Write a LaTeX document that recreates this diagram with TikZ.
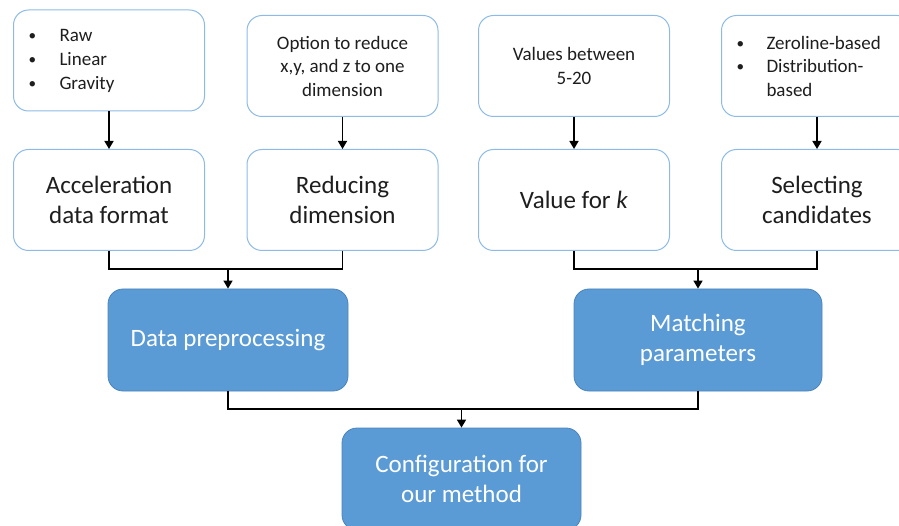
\documentclass[tikz,border=0pt]{standalone}
\usepackage{fontspec}
\setmainfont{Carlito}
\usetikzlibrary{arrows.meta}
\definecolor{boxblue}{HTML}{5B9BD5}
\definecolor{blueedge}{HTML}{4A84BD}
\definecolor{lightedge}{HTML}{8DBBE6}
\definecolor{textcol}{HTML}{1E1E1E}
\newcommand\lgfont{\fontsize{25}{30}\selectfont}
\newcommand\smfont{\fontsize{19}{23.5}\selectfont}
\newcommand\bul[2]{\hspace*{#1}\makebox[#2][l]{\raisebox{1pt}{\scalebox{0.8}{\textbullet}}}}
\begin{document}
\begin{tikzpicture}[x=1pt,y=-1pt,
  wbox/.style={draw=lightedge, line width=1pt, fill=white, rounded corners=15pt,
    minimum width=191pt, minimum height=101pt, inner sep=0pt, align=center, text=textcol},
  bbox/.style={draw=blueedge, line width=0.8pt, fill=boxblue, rounded corners=15pt,
    minimum height=102pt, inner sep=0pt, align=center, text=white, font=\lgfont},
  conn/.style={draw=black, line width=1.6pt},
  arr/.style={conn, -{Triangle[width=9pt,length=8pt]}}]
\useasboundingbox (0,0) rectangle (899,526);
% top row
\node[wbox, text width=191pt, align=left, font=\fontsize{19}{24}\selectfont] (a1) at (109,60.5)
  {\bul{15pt}{31pt}Raw\\ \bul{15pt}{31pt}Linear\\ \bul{15pt}{31pt}Gravity};
\node[wbox, font=\smfont] (b1) at (342.5,66) {Option to reduce\\x,y, and z to one\\dimension};
\node[wbox, font=\smfont] (c1) at (574,66) {Values between\\5-20};
\node[wbox, text width=191pt, align=left, font=\smfont] (d1) at (817,66)
  {\bul{15pt}{30pt}Zeroline-based\\ \bul{15pt}{30pt}Distribution-\\ \hspace*{45pt}based};
% second row
\node[wbox, font=\lgfont] (a2) at (109,200) {Acceleration\\data format};
\node[wbox, font=\lgfont] (b2) at (342.5,200) {Reducing\\dimension};
\node[wbox, font=\lgfont] (c2) at (574,200) {Value for \textit{k}};
\node[wbox, font=\lgfont] (d2) at (817,200) {Selecting\\candidates};
% blue boxes
\node[bbox, minimum width=240pt] (dp) at (228,340) {Data preprocessing};
\node[bbox, minimum width=248pt] (mp) at (698,340) {Matching\\parameters};
\node[bbox, minimum width=239pt] (cfg) at (461.5,479) {Configuration for\\our method};
% connectors
\draw[arr] (a1) -- (a2);
\draw[arr] (b1) -- (b2);
\draw[arr] (c1) -- (c2);
\draw[arr] (d1) -- (d2);
\coordinate (y1) at (0,269);
\coordinate (y2) at (0,409);
\coordinate (j1) at (dp.north |- y1);
\coordinate (j2) at (mp.north |- y1);
\coordinate (j3) at (cfg.north |- y2);
\draw[conn] (a2.south) |- (j1) -| (b2.south);
\draw[arr] (j1) -- (dp.north);
\draw[conn] (c2.south) |- (j2) -| (d2.south);
\draw[arr] (j2) -- (mp.north);
\draw[conn] (dp.south) |- (j3) -| (mp.south);
\draw[arr] (j3) -- (cfg.north);
\end{tikzpicture}
\end{document}
